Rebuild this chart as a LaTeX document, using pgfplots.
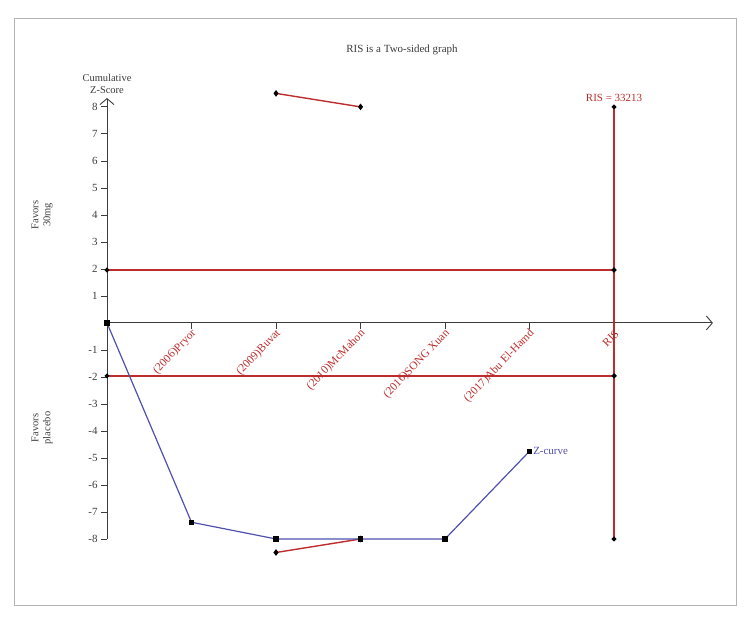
\documentclass[border=0pt]{standalone}
\usepackage{pgfplots}
\pgfplotsset{compat=1.18}
\usepackage{fontspec}
\setmainfont{Liberation Serif}
\usetikzlibrary{arrows.meta}
\definecolor{tsared}{RGB}{190,45,45}
\definecolor{zblue}{RGB}{80,80,175}
\definecolor{axgray}{RGB}{60,60,60}
\begin{document}
\begin{tikzpicture}[x=1bp,y=1bp]
\path[use as bounding box] (0,0) rectangle (752,626);
\draw[gray!60, line width=0.9bp] (14,21) rectangle (736,608);
\node[font=\fontsize{11}{13}\selectfont, text=axgray] at (402,576) {RIS is a Two-sided graph};
\node[font=\fontsize{10.5}{12}\selectfont, rotate=90, align=center, text=axgray] at (42,411) {Favors\\30mg};
\node[font=\fontsize{10.5}{12}\selectfont, rotate=90, align=center, text=axgray] at (42,198) {Favors\\placebo};
\begin{axis}[
  at={(107bp,87bp)}, anchor=south west,
  scale only axis, width=605.9bp, height=441bp,
  xmin=0, xmax=7.17, ymin=-8, ymax=8.33,
  axis lines=middle,
  axis line style={axgray, line width=0.9bp, -{Straight Barb[length=6bp,width=14bp]}},
  clip=false,
  xtick={1,2,3,4,5,6},
  xticklabels={(2006)Pryor,(2009)Buvat,(2010)McMahon,(2016)SONG Xuan,(2017)Abu El-Hamd,RIS},
  ytick={-8,-7,-6,-5,-4,-3,-2,-1,1,2,3,4,5,6,7,8},
  tick align=outside,
  major tick length=6bp,
  tick style={axgray, line width=0.8bp},
  xticklabel style={rotate=46, anchor=east, text=tsared, font=\fontsize{11.5}{13}\selectfont, inner sep=1bp, yshift=-4bp, xshift=1bp},
  yticklabel style={font=\fontsize{11}{13}\selectfont, text=axgray},
  /pgf/number format/assume math mode=true,
]
\addplot[draw=tsared, line width=1.4bp, mark=*, mark size=1.6bp, mark options={draw=black, fill=black}] coordinates {(0,1.96) (6,1.96)};
\addplot[draw=tsared, line width=1.4bp, mark=*, mark size=1.6bp, mark options={draw=black, fill=black}] coordinates {(0,-1.96) (6,-1.96)};
\addplot[draw=tsared, line width=1.4bp, mark=*, mark size=1.6bp, mark options={draw=black, fill=black}] coordinates {(6,-8) (6,-1.96) (6,1.96) (6,8)};
\addplot[draw=tsared, line width=1.4bp, mark=diamond*, mark size=2.2bp, mark options={draw=black, fill=black}] coordinates {(2,8.5) (3,8)};
\addplot[draw=tsared, line width=1.4bp, mark=diamond*, mark size=2.2bp, mark options={draw=black, fill=black}] coordinates {(2,-8.5) (3,-8)};
\addplot[draw=zblue, line width=1.2bp, mark=square*, mark size=2bp, mark options={draw=black, fill=black}] coordinates {(0,0) (1,-7.38) (2,-8) (3,-8) (4,-8) (5,-4.75)};
\node[anchor=west, text=zblue, font=\fontsize{11}{13}\selectfont, inner sep=1bp] at (axis cs:5.03,-4.75) {Z-curve};
\node[anchor=south, text=tsared, font=\fontsize{11}{13}\selectfont, inner sep=2bp] at (axis cs:6,8.1) {RIS = 33213};
\node[anchor=south, align=center, text=axgray, font=\fontsize{10.5}{12}\selectfont, inner sep=2bp] at (axis cs:0,8.4) {Cumulative\\Z-Score};
\end{axis}
\end{tikzpicture}
\end{document}
